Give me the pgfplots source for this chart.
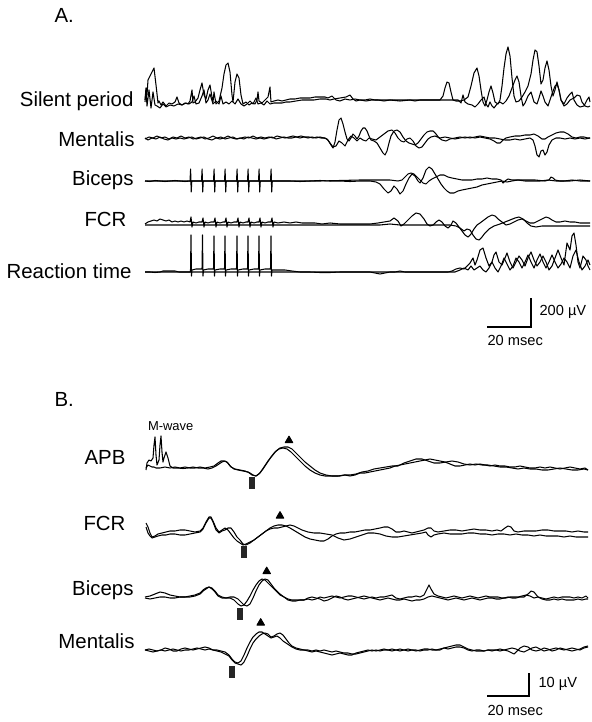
\documentclass[border=0pt]{standalone}
\usepackage{pgfplots}
\pgfplotsset{compat=1.18}
\usepackage{fontspec}
\setmainfont{Liberation Sans}
\begin{document}
\begin{tikzpicture}
\begin{axis}[scale only axis, width=592bp, height=722bp,
  xmin=0, xmax=592, ymin=0, ymax=722, y dir=reverse, hide axis, clip=false,
  cycle list={{black, mark=none, solid}},
  every axis plot/.append style={line width=1.05bp, line join=round}]
\addplot[draw=none] coordinates {(0,0) (592,722)};
% ===== Panel A =====
% Silent period
\addplot coordinates {(145,100)(146,88)(147,95)(148,80)(150,76)(152,72)(154,68)(156,85)(158,103)(159,101)(161,105)(163,102)(166,106)(169,103)(172,104)(175,102)(177,97)(179,103)(182,105)(185,103)(188,104)(190,101)(192,90)(193,103)(195,102)(198,98)(200,90)(202,83)(204,95)(206,99)(208,90)(210,85)(212,97)(213,102)(214,92)(216,104)(219,101)(222,88)(224,74)(226,65)(228,63)(230,72)(232,95)(233,102)(235,82)(237,74)(239,78)(241,95)(243,104)(246,102)(249,105)(252,103)(255,104)(257,100)(258,92)(259,101)(262,103)(265,100)(268,97)(270,87)(271,102)(274,101)(278,100)(282,101)(286,100)(290,99)(295,99)(300,98)(305,98)(310,98)(315,97)(320,97)(325,97)(328,98)(332,96)(336,100)(340,101)(345,99)(350,100)(355,99)(360,100)(365,100)(370,99)(375,100)(380,100)(385,100)(390,100)(395,100)(400,100)(410,100)(415,101)(420,100)(425,100)(430,100)(435,100)(440,100)(443,96)(445,88)(447,82)(449,83)(451,92)(453,100)(456,101)(460,101)(464,100)(468,97)(471,86)(474,73)(477,68)(479,76)(481,90)(483,102)(485,106)(487,100)(489,92)(491,86)(493,93)(495,102)(498,104)(500,100)(502,86)(504,68)(506,54)(508,47)(510,56)(512,78)(514,96)(516,102)(519,101)(522,97)(525,92)(528,86)(531,74)(533,60)(535,50)(537,52)(539,66)(541,84)(543,80)(545,68)(547,61)(549,70)(551,86)(553,96)(555,90)(557,82)(559,90)(561,100)(564,104)(567,98)(570,94)(572,92)(574,100)(577,105)(580,107)(584,106)(587,100)(589,97)(590,102)};
\addplot coordinates {(145,102)(146,90)(147,106)(148,98)(149,90)(151,108)(153,92)(155,105)(157,106)(160,108)(163,104)(166,107)(170,105)(174,106)(178,104)(182,105)(186,103)(189,104)(192,102)(194,96)(196,104)(199,103)(202,96)(204,90)(206,103)(208,100)(210,94)(213,104)(216,101)(219,104)(221,96)(223,104)(226,102)(229,104)(232,101)(235,104)(238,99)(241,104)(244,106)(247,104)(250,101)(253,104)(256,98)(258,104)(261,103)(264,105)(267,101)(270,104)(274,103)(278,103)(282,103)(286,102)(290,102)(296,101)(302,100)(308,100)(314,100)(320,99)(326,99)(330,100)(334,99)(340,98)(346,97)(350,95)(353,99)(356,101)(360,100)(366,101)(372,100)(378,100)(384,101)(390,100)(400,101)(410,100)(420,100)(430,100)(440,100)(450,100)(458,100)(461,103)(463,95)(465,102)(468,104)(472,105)(475,107)(478,104)(481,100)(484,97)(486,104)(488,107)(490,102)(492,106)(494,108)(497,104)(500,102)(503,104)(506,101)(509,96)(512,88)(515,80)(517,76)(519,82)(521,96)(523,106)(525,103)(528,96)(531,92)(534,102)(537,104)(539,98)(541,91)(543,96)(545,102)(548,106)(550,100)(552,94)(555,86)(557,84)(559,90)(561,100)(564,106)(567,104)(570,100)(574,98)(577,95)(580,96)(582,102)(585,106)(588,107)(590,106)};
% Mentalis A
\addplot coordinates {(145,139)(149,137)(153,138)(157,136)(161,138)(165,137)(169,139)(173,137)(177,138)(181,136)(185,138)(189,137)(193,139)(197,138)(201,137)(205,139)(209,138)(213,136)(217,138)(221,137)(225,139)(229,138)(233,137)(237,139)(241,138)(245,137)(249,138)(253,136)(257,138)(261,137)(265,138)(269,137)(273,138)(277,136)(281,137)(285,138)(289,137)(293,136)(297,137)(301,136)(305,137)(309,137)(313,138)(317,137)(321,138)(325,138)(328,140)(331,145)(333,148)(335,142)(337,130)(339,120)(341,118)(343,124)(345,132)(347,139)(349,141)(351,138)(353,134)(355,136)(357,139)(359,136)(361,131)(363,128)(365,128)(367,131)(369,136)(371,140)(374,141)(377,143)(380,148)(383,153)(385,155)(387,151)(389,143)(391,136)(394,131)(397,130)(400,132)(403,137)(406,141)(409,143)(412,144)(415,145)(418,143)(421,139)(424,135)(427,132)(430,131)(433,131)(436,134)(439,138)(442,140)(446,141)(450,139)(455,138)(460,137)(465,138)(470,137)(475,138)(480,137)(485,138)(490,139)(494,141)(497,143)(500,143)(503,140)(506,138)(510,137)(515,136)(520,136)(525,135)(530,135)(534,134)(538,136)(542,139)(545,139)(548,137)(552,135)(556,133)(560,132)(564,132)(568,134)(572,137)(576,138)(580,137)(584,137)(588,138)(590,138)};
\addplot coordinates {(145,138)(148,140)(152,138)(156,139)(160,137)(164,139)(168,140)(172,138)(176,139)(180,138)(184,139)(188,138)(192,137)(196,139)(200,138)(204,137)(208,139)(212,140)(216,138)(220,139)(224,138)(228,136)(232,138)(236,139)(240,138)(244,139)(248,137)(252,138)(256,139)(260,138)(264,139)(268,138)(272,137)(276,139)(280,138)(284,137)(288,138)(292,138)(296,137)(300,138)(304,137)(308,138)(312,137)(316,138)(320,137)(324,138)(327,139)(330,143)(333,147)(336,146)(339,141)(342,143)(345,146)(348,140)(351,136)(354,138)(357,141)(360,138)(363,140)(366,141)(369,138)(372,139)(376,140)(380,137)(384,134)(388,131)(392,130)(395,133)(398,138)(401,141)(404,142)(407,139)(410,138)(413,141)(416,146)(419,148)(422,147)(425,143)(428,139)(431,137)(435,136)(440,138)(445,137)(450,138)(455,139)(460,138)(465,137)(470,138)(475,137)(480,136)(485,137)(490,138)(495,138)(500,139)(505,140)(510,140)(515,139)(520,140)(525,139)(530,138)(533,140)(535,146)(537,155)(539,157)(541,151)(543,150)(545,155)(547,152)(549,145)(552,140)(556,138)(560,138)(565,139)(570,138)(575,139)(580,138)(585,139)(590,138)};
% Biceps A
\addplot coordinates {(145,181)(150,181.5)(155,180.5)(160,181)(165,181.5)(170,181)(175,180.5)(180,181)(185,181.5)(190,181)(190.6,169)(191.2,192)(191.8,181)(196,181)(201.5,181)(202.1,169)(202.7,192)(203.3,181)(208,181)(213.5,181)(214.1,169)(214.7,192)(215.3,181)(220,181)(224.5,181)(225.1,169)(225.7,192)(226.3,181)(231,181)(236.5,181)(237.1,169)(237.7,192)(238.3,181)(243,181)(247.5,181)(248.1,169)(248.7,192)(249.3,181)(254,181)(258.5,181)(259.1,169)(259.7,192)(260.3,181)(265,181)(270.5,181)(271.1,169)(271.7,192)(272.3,181)(278,181)(290,181)(300,181.5)(310,181)(320,180.5)(330,181)(340,181)(350,181.5)(360,181)(370,181)(376,182)(380,184)(384,189)(388,193)(391,191)(394,186)(397,189)(400,194)(403,191)(406,184)(409,178)(412,174)(415,176)(418,181)(420,183)(423,178)(426,170)(429,167)(432,169)(435,174)(438,179)(441,184)(444,188)(447,191)(450,193)(454,193)(458,191)(462,190)(467,189)(472,188)(477,187)(482,185)(487,184)(492,183)(497,182)(502,181)(507,182)(512,181)(518,180)(525,181)(532,181)(540,181)(548,180)(556,181)(564,181)(572,180)(580,181)(590,181)};
\addplot coordinates {(145,181)(160,181)(175,181)(190,181)(200,181)(220,181)(240,181)(260,181)(280,181)(300,181)(320,181)(340,180.5)(360,180)(380,180)(390,180)(398,181)(402,180)(405,177)(408,174)(411,173)(414,174)(417,177)(420,180)(423,183)(426,184)(429,181)(432,179)(436,177)(440,175)(444,175)(448,177)(452,178)(457,179)(462,180)(467,180)(472,180)(477,179)(482,179)(487,178)(492,179)(497,179)(501,180)(503,183)(505,181)(508,179)(512,180)(518,180)(525,180)(535,180)(545,181)(549,180)(551,177)(553,178)(555,180)(560,181)(570,181)(580,180)(590,181)};
% FCR A
\addplot coordinates {(145,224)(148,222)(151,221)(154,220)(157,221)(160,219)(163,220)(166,221)(169,220)(172,222)(175,221)(178,222)(181,221)(184,222)(187,221)(190,222)(191,217)(192,227)(193,222)(196,223)(199,222)(202,222)(203,218)(204,227)(205,222)(208,223)(211,222)(214,222)(215,218)(216,227)(217,222)(220,223)(223,222)(225,222)(226,218)(227,227)(228,222)(231,223)(234,222)(237,222)(238,218)(239,227)(240,222)(243,223)(246,222)(248,222)(249,218)(250,227)(251,222)(254,223)(257,222)(259,222)(260,218)(261,227)(262,222)(265,223)(268,222)(271,222)(272,218)(273,227)(274,222)(278,223)(284,222)(290,223)(296,222)(302,223)(308,223)(315,223)(322,224)(330,223)(340,224)(350,224)(360,224)(370,224)(378,223)(384,222)(390,221)(394,218)(398,221)(401,226)(404,224)(408,220)(412,216)(416,213)(420,214)(424,219)(427,224)(430,226)(433,225)(436,222)(439,220)(442,222)(445,226)(448,228)(451,225)(453,221)(456,223)(459,227)(462,231)(465,235)(468,237)(471,234)(474,229)(477,225)(480,223)(484,220)(488,217)(492,215)(495,216)(498,219)(502,222)(506,225)(510,224)(514,222)(518,220)(522,219)(526,221)(530,223)(534,223)(538,221)(542,219)(546,217)(549,218)(552,220)(556,222)(560,222)(565,221)(570,222)(575,222)(580,223)(585,223)(590,223)};
\addplot coordinates {(145,225)(160,225)(180,225)(200,225)(220,225)(240,225)(260,225)(280,225)(300,225)(320,225)(340,225)(360,225)(380,225)(390,224)(400,225)(410,225)(420,225)(430,225)(440,225)(450,225)(456,226)(460,228)(464,231)(467,229)(470,230)(473,235)(476,239)(479,240)(482,237)(485,233)(489,229)(494,226)(500,224)(505,222)(510,220)(515,218)(519,217)(523,219)(527,223)(531,226)(536,227)(542,226)(550,226)(560,226)(570,226)(580,226)(590,226)};
% Reaction time A
\addplot coordinates {(145,272)(150,272)(155,272.5)(160,272)(163,271)(166,271)(170,271)(175,271)(179,272)(185,272)(190,272)(190.5,271)(191,235)(191.5,276)(192,270)(196,269)(202,269)(202.5,235)(203,276)(203.5,270)(208,269)(213.5,269)(214,236)(214.5,276)(215,270)(220,269)(224.5,269)(225,236)(225.5,276)(226,270)(231,269)(236.5,269)(237,236)(237.5,276)(238,270)(243,269)(247.5,269)(248,236)(248.5,276)(249,270)(254,269)(258.5,269)(259,236)(259.5,276)(260,270)(265,269)(270.5,269)(271,236)(271.5,276)(272,270)(278,270)(285,270)(292,271)(300,272)(310,272)(320,272.5)(330,272.5)(340,272)(350,272)(360,272)(370,272)(375,273)(380,274)(385,273)(390,272)(395,272)(400,271)(405,272)(410,272)(420,272)(430,272)(440,272)(448,272)(452,271)(456,269)(460,268)(464,269)(467,266)(470,263)(473,258)(475,265)(477,260)(480,250)(483,248)(486,258)(489,266)(492,262)(494,255)(496,252)(499,262)(502,265)(505,258)(507,253)(510,262)(513,268)(516,262)(519,256)(522,260)(525,266)(528,258)(531,252)(534,260)(537,266)(540,262)(543,256)(546,262)(549,270)(552,266)(555,258)(558,250)(561,258)(564,265)(567,243)(570,250)(572,236)(574,233)(576,245)(578,262)(580,268)(583,256)(586,260)(588,266)(590,270)};
\addplot coordinates {(145,272)(150,272)(160,272)(170,272)(180,272)(190,272)(200,272)(220,272)(240,272)(260,272)(280,272)(300,272)(320,272)(340,272)(360,272)(380,272)(400,272)(420,272)(440,272)(455,272)(460,270)(464,268)(468,270)(471,266)(474,270)(477,268)(480,266)(483,270)(486,272)(489,268)(492,262)(495,268)(498,272)(501,266)(504,258)(507,264)(510,270)(513,266)(516,258)(519,262)(522,268)(525,262)(528,255)(531,262)(534,268)(537,260)(540,254)(543,262)(546,268)(549,262)(552,255)(555,262)(558,268)(561,264)(564,258)(567,262)(570,268)(573,256)(576,250)(579,262)(582,270)(585,266)(588,260)(590,265)};
% Scale bar A
\addplot[black, line width=1.8bp, line join=miter] coordinates {(487,327) (531,327) (531,298)};
% ===== Panel B =====
% APB
\addplot coordinates {(146,470)(147,463)(149,460)(151,461)(153,458)(154,445)(155,437)(156,455)(157,465)(159,460)(160,445)(161,436)(162,452)(163,462)(164,458)(166,452)(168,458)(170,466)(173,468)(178,468)(183,468.5)(188,468)(193,467)(198,468)(203,468)(208,469)(212,468)(216,466)(219,464)(222,462)(225,461)(228,463)(231,467)(235,469)(240,470)(245,471)(250,473)(253,475)(256,476)(259,474)(263,469)(267,463)(271,457)(275,452)(279,449)(283,448)(287,449)(291,452)(295,456)(300,461)(305,466)(310,470)(315,473)(320,475)(325,476)(330,476)(335,476)(340,476)(345,475)(350,476)(355,475)(360,473)(365,473)(370,472)(375,471)(380,470)(385,469)(390,468)(395,466)(400,465)(405,464)(410,463)(415,462)(420,461)(425,460)(430,459)(435,460)(440,461)(445,462)(450,464)(455,466)(460,466)(465,465)(470,464)(475,465)(480,464)(485,465)(490,466)(495,465)(500,466)(505,466)(510,467)(515,467)(520,466)(525,467)(530,468)(535,468)(540,467)(545,468)(550,467)(555,468)(560,469)(565,468)(570,467)(575,468)(580,469)(585,468)(588,470)};
\addplot coordinates {(146,468)(148,465)(150,466)(152,467)(154,467)(156,468)(160,468)(165,467)(170,468)(175,467)(180,468)(185,467)(190,468)(195,468)(200,467)(205,468)(210,467)(214,466)(218,463)(221,461)(224,461)(227,462)(230,466)(234,469)(238,470)(243,471)(248,472)(252,475)(256,476)(260,473)(264,467)(268,461)(272,456)(276,451)(280,448)(284,447)(288,447)(292,449)(296,453)(300,457)(305,462)(310,466)(315,470)(320,473)(326,475)(332,476)(338,476)(344,475)(350,475)(356,474)(362,472)(368,471)(374,469)(380,468)(386,467)(392,466)(398,466)(404,463)(410,461)(416,459)(422,459)(428,461)(434,463)(440,463)(446,462)(452,461)(458,462)(464,464)(470,465)(476,464)(482,465)(488,465)(494,466)(500,467)(506,467)(512,468)(518,469)(524,468)(530,469)(536,469)(542,470)(548,470)(554,469)(560,468)(566,469)(572,470)(578,470)(584,469)(588,470)};
% FCR B
\addplot coordinates {(146,523)(148,527)(150,533)(152,537)(155,536)(158,534)(162,533)(166,532)(170,531)(175,531)(180,530)(185,530)(190,531)(195,532)(200,531)(203,528)(206,522)(209,517)(211,517)(213,521)(216,528)(219,532)(222,530)(225,528)(228,530)(231,534)(234,538)(237,541)(240,543)(243,545)(246,544)(250,542)(254,540)(258,537)(262,534)(266,531)(270,528)(274,526)(278,525)(282,525)(286,526)(290,528)(295,531)(300,534)(305,537)(310,539)(315,540)(320,541)(324,541)(328,539)(332,536)(336,534)(340,533)(345,533)(350,532)(355,532)(360,531)(365,530)(370,530)(375,529)(380,528)(384,527)(388,527)(392,529)(396,532)(400,532)(404,531)(408,532)(412,533)(416,532)(420,531)(424,530)(428,528)(431,528)(434,531)(438,532)(444,531)(450,530)(456,530)(462,531)(468,530)(474,529)(480,530)(486,530)(492,531)(497,530)(501,531)(505,528)(508,526)(511,527)(514,531)(518,532)(524,531)(530,531)(536,531)(542,530)(548,530)(554,531)(560,531)(566,531)(572,532)(578,531)(584,532)(588,532)};
\addplot coordinates {(146,527)(148,533)(150,536)(152,538)(155,537)(158,536)(162,535)(166,535)(170,534)(175,534)(180,535)(185,535)(190,534)(195,533)(200,532)(203,529)(206,523)(209,518)(211,518)(213,522)(216,530)(219,533)(222,531)(225,530)(228,528)(231,528)(234,532)(237,537)(240,540)(243,544)(246,545)(250,543)(254,540)(258,537)(262,534)(266,531)(270,529)(274,528)(278,528)(282,527)(286,526)(290,525)(294,526)(298,528)(302,530)(308,532)(314,533)(320,533)(326,534)(332,535)(338,538)(344,540)(350,539)(356,537)(362,535)(368,533)(374,533)(380,534)(386,536)(392,537)(398,537)(404,536)(410,535)(416,534)(422,533)(426,532)(428,535)(431,537)(434,535)(438,534)(444,533)(450,534)(456,534)(462,534)(468,533)(474,533)(480,534)(486,534)(492,535)(498,534)(504,534)(510,535)(516,534)(522,535)(528,535)(534,536)(540,535)(546,536)(552,536)(558,536)(564,537)(570,536)(576,537)(582,537)(588,537)};
% Biceps B
\addplot coordinates {(145,597)(150,596)(155,594)(160,592)(165,593)(170,595)(175,596)(180,597)(185,597)(190,597)(195,596)(200,594)(203,591)(206,589)(209,587)(212,588)(215,591)(218,595)(222,597)(226,598)(230,598)(234,600)(238,604)(241,606)(244,605)(247,601)(250,596)(253,590)(256,585)(259,581)(262,579)(265,580)(268,583)(271,586)(274,589)(277,592)(280,595)(284,597)(288,599)(292,600)(296,600)(300,600)(304,600)(308,599)(312,600)(316,599)(320,597)(324,598)(328,597)(332,596)(336,597)(340,598)(344,597)(348,596)(352,596)(356,597)(360,598)(364,599)(368,598)(372,597)(376,598)(380,597)(384,597)(388,596)(392,595)(396,598)(400,599)(404,598)(408,597)(412,597)(416,596)(420,597)(424,595)(427,589)(429,585)(431,589)(434,594)(438,596)(442,597)(446,598)(450,597)(454,596)(458,597)(462,598)(466,597)(470,596)(474,597)(478,598)(482,597)(486,596)(490,597)(494,597)(498,597)(502,598)(506,598)(510,597)(514,597)(518,597)(522,596)(526,595)(530,596)(534,598)(538,597)(542,598)(546,599)(550,598)(554,597)(558,598)(562,597)(566,597)(570,597)(574,598)(578,597)(582,598)(586,596)(588,598)};
\addplot coordinates {(145,598)(150,599)(155,598)(160,597)(165,597)(170,598)(175,598)(180,597)(185,597)(190,596)(195,595)(200,593)(203,590)(206,588)(209,587)(212,589)(215,592)(218,596)(222,598)(226,598)(230,597)(234,597)(238,599)(241,602)(244,605)(247,606)(250,604)(253,598)(256,591)(259,585)(262,581)(265,579)(268,580)(271,584)(274,588)(277,591)(280,594)(284,597)(288,600)(292,601)(296,601)(300,600)(304,600)(308,598)(312,597)(316,598)(320,599)(324,601)(328,600)(332,598)(336,596)(340,597)(344,599)(348,600)(352,599)(356,598)(360,597)(364,596)(368,597)(372,598)(376,599)(380,600)(384,599)(388,598)(392,599)(396,600)(400,600)(404,599)(408,600)(412,601)(416,600)(420,600)(424,599)(428,597)(432,596)(436,597)(440,598)(444,599)(448,600)(452,599)(456,598)(460,599)(464,600)(468,599)(472,598)(476,599)(480,600)(484,599)(488,598)(492,598)(496,599)(500,599)(504,598)(508,597)(512,598)(516,598)(520,597)(524,597)(528,594)(531,591)(534,592)(538,597)(542,599)(546,600)(550,600)(554,599)(558,600)(562,599)(566,600)(570,600)(574,600)(578,599)(582,600)(586,599)(588,599)};
% Mentalis B
\addplot coordinates {(145,650)(149,649)(153,650)(157,651)(161,650)(165,648)(169,649)(173,651)(177,651)(181,649)(185,648)(189,649)(193,650)(197,649)(201,648)(205,647)(209,648)(213,650)(217,650)(221,651)(225,652)(229,655)(232,659)(235,662)(238,663)(241,661)(244,655)(247,648)(250,642)(253,637)(256,634)(259,632)(262,632)(265,634)(268,636)(271,638)(274,637)(277,636)(280,638)(283,641)(286,643)(289,645)(292,647)(296,649)(300,650)(304,650)(308,650)(312,651)(316,650)(320,651)(324,650)(328,651)(332,652)(336,651)(340,652)(344,653)(348,653)(352,654)(356,654)(360,653)(364,652)(368,651)(372,650)(376,651)(380,650)(384,649)(388,650)(392,649)(396,650)(400,651)(404,650)(408,649)(412,650)(416,651)(420,650)(424,649)(428,649)(432,650)(436,650)(440,650)(444,648)(448,647)(452,646)(456,645)(460,645)(464,647)(468,649)(472,650)(476,651)(480,651)(484,651)(488,650)(492,650)(496,650)(500,649)(504,650)(508,651)(512,653)(514,654)(516,652)(520,648)(524,646)(528,647)(532,650)(536,651)(540,650)(544,648)(548,649)(552,651)(556,650)(560,648)(564,649)(568,650)(572,651)(576,650)(580,649)(584,647)(588,646)};
\addplot coordinates {(145,650)(149,651)(153,652)(157,651)(161,650)(165,651)(169,650)(173,649)(177,650)(181,651)(185,650)(189,650)(193,649)(197,648)(201,649)(205,650)(209,649)(213,650)(217,651)(221,652)(225,654)(229,656)(232,660)(235,663)(238,664)(241,665)(244,662)(247,656)(250,649)(253,643)(256,639)(259,636)(262,634)(265,633)(268,634)(271,637)(274,636)(277,634)(280,633)(283,635)(286,639)(289,643)(292,646)(296,648)(300,649)(304,650)(308,651)(312,652)(316,651)(320,652)(324,653)(328,654)(332,655)(336,654)(340,653)(344,654)(348,655)(352,655)(356,653)(360,652)(364,651)(368,650)(372,651)(376,650)(380,651)(384,650)(388,650)(392,651)(396,650)(400,649)(404,650)(408,651)(412,650)(416,650)(420,651)(424,650)(428,650)(432,649)(436,650)(440,649)(444,648)(448,649)(452,648)(456,647)(460,647)(464,648)(468,650)(472,651)(476,650)(480,650)(484,651)(488,650)(492,651)(496,650)(500,651)(504,650)(508,649)(512,648)(516,649)(520,651)(524,652)(528,650)(532,648)(536,647)(540,649)(544,651)(548,650)(552,649)(556,648)(560,649)(564,650)(568,649)(572,648)(576,649)(580,650)(584,648)(588,647)};
% markers
\addplot[only marks, mark=triangle*, mark size=4.3bp, mark options={black}] coordinates {(289,440.5) (280,516) (266.7,571.5) (260.7,623)};
\addplot[only marks, mark=|, mark size=6bp, mark options={black!85, line width=6bp}] coordinates {(252,483) (244,552) (240,614) (231.7,672)};
% Scale bar B
\addplot[black, line width=1.8bp, line join=miter] coordinates {(487,696) (529.3,696) (529.3,673)};
% ===== Text =====
\node[anchor=base west, font=\fontsize{20.5}{24}\selectfont] at (axis cs:51,23) {A.};
\node[anchor=base west, font=\fontsize{20.5}{24}\selectfont] at (axis cs:51,406) {B.};
\node[anchor=base east, font=\fontsize{20.5}{24}\selectfont] at (axis cs:137,106.4) {Silent period};
\node[anchor=base east, font=\fontsize{20.5}{24}\selectfont] at (axis cs:138,146.7) {Mentalis};
\node[anchor=base east, font=\fontsize{20.5}{24}\selectfont] at (axis cs:137,186) {Biceps};
\node[anchor=base east, font=\fontsize{20.5}{24}\selectfont] at (axis cs:130,226) {FCR};
\node[anchor=base east, font=\fontsize{20.5}{24}\selectfont] at (axis cs:135,278) {Reaction time};
\node[anchor=west, font=\fontsize{14.7}{17}\selectfont] at (axis cs:536,312) {200 µV};
\node[anchor=base west, font=\fontsize{14.7}{17}\selectfont] at (axis cs:484,345.5) {20 msec};
\node[anchor=base west, font=\fontsize{13}{15}\selectfont] at (axis cs:144.5,430) {M-wave};
\node[anchor=base east, font=\fontsize{20.5}{24}\selectfont] at (axis cs:129,464.5) {APB};
\node[anchor=base east, font=\fontsize{20.5}{24}\selectfont] at (axis cs:129,530) {FCR};
\node[anchor=base east, font=\fontsize{20.5}{24}\selectfont] at (axis cs:137,595) {Biceps};
\node[anchor=base east, font=\fontsize{20.5}{24}\selectfont] at (axis cs:138,648) {Mentalis};
\node[anchor=west, font=\fontsize{14.7}{17}\selectfont] at (axis cs:535,684) {10 µV};
\node[anchor=base west, font=\fontsize{14.7}{17}\selectfont] at (axis cs:484,715) {20 msec};
\end{axis}
\end{tikzpicture}
\end{document}
